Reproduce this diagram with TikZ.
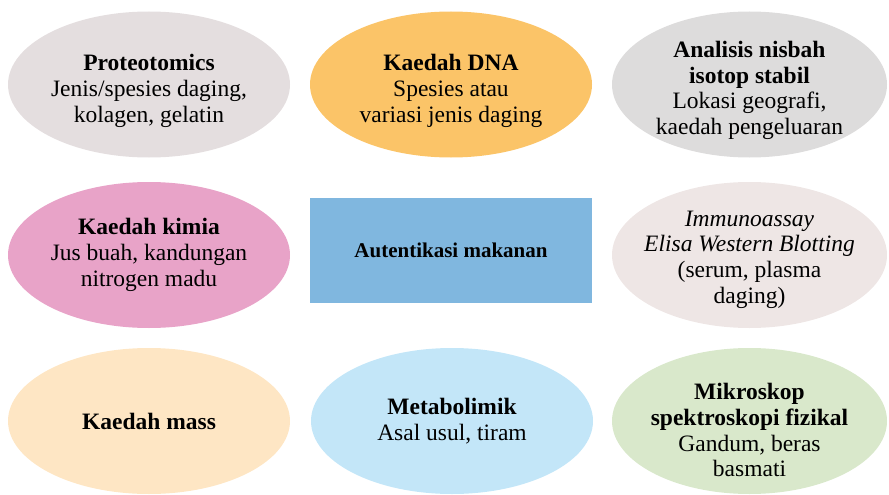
\documentclass[tikz,border=0pt]{standalone}
\usepackage{fontspec}
\setmainfont{Liberation Serif}
\usepackage{tikz}
\usetikzlibrary{shapes.geometric}

\definecolor{proteo}{HTML}{E4DEDF}
\definecolor{dna}{HTML}{FBC468}
\definecolor{isotop}{HTML}{DDDCDC}
\definecolor{kimia}{HTML}{E8A3C8}
\definecolor{pusat}{HTML}{80B7DF}
\definecolor{imuno}{HTML}{EEE6E5}
\definecolor{mass}{HTML}{FEE6C4}
\definecolor{metabo}{HTML}{C3E6F8}
\definecolor{mikro}{HTML}{D9E8CB}

% tinggi tambahan di baris pertama, untuk menurunkan teks
\newcommand{\sela}[1]{\rule{0pt}{#1}}

\begin{document}
\begin{tikzpicture}[
  x=1pt, y=-1pt,
  kaedah/.style={ellipse, minimum width=282pt, minimum height=146pt,
    inner xsep=-30pt, inner ysep=-12pt,
    align=center, font=\fontsize{23.5}{25.8}\selectfont},
  kanan/.style={kaedah, minimum width=275pt},
  teras/.style={rectangle, minimum width=282pt, minimum height=105pt, inner sep=0pt,
    align=center, font=\bfseries\fontsize{21}{24}\selectfont}
]
  \useasboundingbox (0,0) rectangle (889,495);
  \clip (0,0) rectangle (889,495);

  % baris atas
  \node[kaedah, fill=proteo] (proteo) at (149,84.5)
    {\sela{29.5pt}\textbf{Proteotomics}\\Jenis/spesies daging,\\kolagen, gelatin};
  \node[kaedah, fill=dna] (dna) at (451,84.5)
    {\sela{29.5pt}\textbf{Kaedah DNA}\\Spesies atau\\variasi jenis daging};
  \node[kanan, fill=isotop] (isotop) at (749.5,84.5)
    {\sela{28pt}\textbf{Analisis nisbah}\\\textbf{isotop stabil}\\Lokasi geografi,\\kaedah pengeluaran};

  % baris tengah
  \node[kaedah, fill=kimia] (kimia) at (149,255)
    {\textbf{Kaedah kimia}\\Jus buah, kandungan\\nitrogen madu};
  \node[teras, fill=pusat] (pusat) at (451,250) {Autentikasi makanan};
  \node[kanan, fill=imuno] (imuno) at (749.5,255)
    {\sela{24.5pt}\textit{Immunoassay}\\\textit{Elisa Western Blotting}\\(serum, plasma\\daging)};

  % baris bawah
  \node[kaedah, fill=mass] (mass) at (149,421) {\textbf{Kaedah mass}};
  \node[kaedah, fill=metabo] (metabo) at (452,421)
    {\textbf{Metabolimik}\\Asal usul, tiram};
  \node[kanan, fill=mikro] (mikro) at (749.5,421)
    {\sela{34.5pt}\textbf{Mikroskop}\\\textbf{spektroskopi fizikal}\\Gandum, beras\\basmati};
\end{tikzpicture}
\end{document}
